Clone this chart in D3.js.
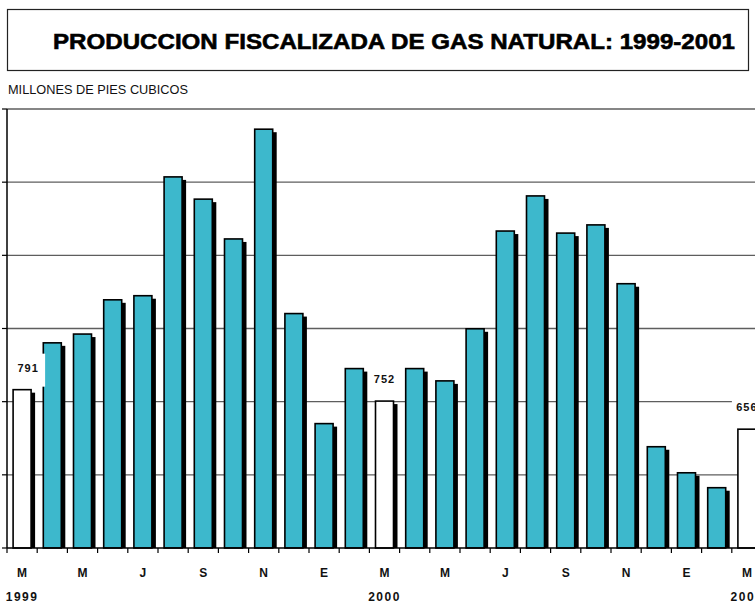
<!DOCTYPE html>
<html>
<head>
<meta charset="utf-8">
<script src="https://cdn.jsdelivr.net/npm/d3@7"></script>
<style>
  html, body { margin: 0; padding: 0; background: #fff; overflow: hidden; }
  svg { display: block; }
</style>
</head>
<body>
<script>
// ---- data ----
const months = ["Mar-99","Abr-99","May-99","Jun-99","Jul-99","Ago-99","Sep-99","Oct-99","Nov-99","Dic-99",
                "Ene-00","Feb-00","Mar-00","Abr-00","May-00","Jun-00","Jul-00","Ago-00","Sep-00","Oct-00","Nov-00","Dic-00",
                "Ene-01","Feb-01","Mar-01"];
const production = [791, 951, 981, 1098, 1112, 1518, 1442, 1306, 1681, 1051, 675, 863,
                    752, 863, 821, 999, 1333, 1453, 1326, 1354, 1153, 596, 507, 456, 656];
const monthLabels = ["M","","M","","J","","S","","N","","E","","M","","M","","J","","S","","N","","E","","M"];
const yearLabels = ["1999","2000","2001"];
const yearMonths = ["Mar-99","Mar-00","Mar-01"];
const highlighted = ["Mar-99","Mar-00","Mar-01"];
const labelShift = [6, 0, 0];
const yTicks = [250, 500, 750, 1000, 1250, 1500, 1750];
const titleText = "PRODUCCION FISCALIZADA DE GAS NATURAL: 1999-2001";
const unitText = "MILLONES DE PIES CUBICOS";

// ---- layout ----
const W = 755, H = 603;
const svg = d3.select("body").append("svg").attr("width", W).attr("height", H);

// title box
svg.append("rect").attr("x", 7.5).attr("y", 9.5).attr("width", 741).attr("height", 61)
  .attr("fill", "#fff").attr("stroke", "#222").attr("stroke-width", 1.2);
svg.append("text").attr("x", 53).attr("y", 49)
  .attr("font-family", "'Liberation Sans', Arial, sans-serif").attr("font-weight", "bold")
  .attr("font-size", 22).attr("textLength", 682).attr("lengthAdjust", "spacingAndGlyphs")
  .attr("stroke", "#000").attr("stroke-width", 0.6)
  .text(titleText);

svg.append("text").attr("x", 8).attr("y", 94)
  .attr("font-family", "'Liberation Sans Narrow', 'Arial Narrow', 'Liberation Sans', sans-serif")
  .attr("font-size", 13).attr("textLength", 180).attr("lengthAdjust", "spacingAndGlyphs")
  .attr("fill", "#111")
  .text(unitText);

const x = d3.scaleBand().domain(months).range([7, 762]).paddingInner(0.404).paddingOuter(0.202);
const y = d3.scaleLinear().domain([250, 1750]).range([548, 109]);
const step = x.step();
const gap = (step - x.bandwidth()) / 2;

// gridlines
const gy = svg.append("g");
gy.selectAll("line.grid").data(yTicks.slice(1)).join("line")
  .attr("x1", 7).attr("x2", W).attr("y1", d => y(d)).attr("y2", d => y(d))
  .attr("stroke", "#5e5e5e").attr("stroke-width", 1.3);
// y axis ticks
gy.selectAll("line.tk").data(yTicks).join("line")
  .attr("x1", 2).attr("x2", 7).attr("y1", d => y(d)).attr("y2", d => y(d))
  .attr("stroke", "#000").attr("stroke-width", 1.2);
gy.append("line").attr("x1", 7).attr("x2", 7).attr("y1", y(1750)).attr("y2", y(250))
  .attr("stroke", "#000").attr("stroke-width", 1.5);

// bars: shadow then bar
const data = months.map((m, i) => ({ m, v: production[i], hi: highlighted.includes(m) }));
const bars = svg.append("g");
bars.selectAll("rect.sh").data(data).join("rect")
  .attr("x", d => x(d.m) + 4).attr("y", d => y(d.v) + 3)
  .attr("width", x.bandwidth()).attr("height", d => y(250) - y(d.v) - 3)
  .attr("fill", "#000");
bars.selectAll("rect.bar").data(data).join("rect")
  .attr("x", d => x(d.m)).attr("y", d => y(d.v))
  .attr("width", x.bandwidth()).attr("height", d => y(250) - y(d.v))
  .attr("fill", d => d.hi ? "#fff" : "#3db8cc")
  .attr("stroke", "#000").attr("stroke-width", 1.6);

// x axis baseline + ticks
svg.append("line").attr("x1", 7).attr("x2", W).attr("y1", y(250)).attr("y2", y(250))
  .attr("stroke", "#000").attr("stroke-width", 1.5);
svg.append("g").selectAll("line").data(months).join("line")
  .attr("x1", d => x(d) - gap).attr("x2", d => x(d) - gap)
  .attr("y1", y(250)).attr("y2", y(250) + 5)
  .attr("stroke", "#000").attr("stroke-width", 1.2);

// month labels
svg.append("g").selectAll("text").data(months).join("text")
  .attr("x", d => x(d) + x.bandwidth() / 2).attr("y", 577)
  .attr("text-anchor", "middle")
  .attr("font-family", "'Liberation Sans', Arial, sans-serif").attr("font-weight", "bold")
  .attr("font-size", 12).attr("fill", "#111")
  .text((d, i) => monthLabels[i]);

// year labels
svg.append("g").selectAll("text").data(yearMonths).join("text")
  .attr("x", d => x(d) + x.bandwidth() / 2).attr("y", 601)
  .attr("text-anchor", "middle")
  .attr("font-family", "'Liberation Sans', Arial, sans-serif").attr("font-weight", "bold")
  .attr("font-size", 12).attr("letter-spacing", 1.5).attr("fill", "#111")
  .text((d, i) => yearLabels[i]);

// value labels with white background
const lab = svg.append("g");
highlighted.forEach((m, i) => {
  const v = production[months.indexOf(m)];
  const cx = x(m) + x.bandwidth() / 2 + labelShift[i];
  const cy = y(v) - 22;
  lab.append("rect").attr("x", cx - 15).attr("y", cy - 14).attr("width", 32).attr("height", 33)
    .attr("fill", "#fff");
  lab.append("text").attr("x", cx).attr("y", cy + 4)
    .attr("text-anchor", "middle")
    .attr("font-family", "'Liberation Sans', Arial, sans-serif").attr("font-weight", "bold")
    .attr("font-size", 11).attr("letter-spacing", 1).attr("fill", "#111")
    .text(v);
});
</script>
</body>
</html>
